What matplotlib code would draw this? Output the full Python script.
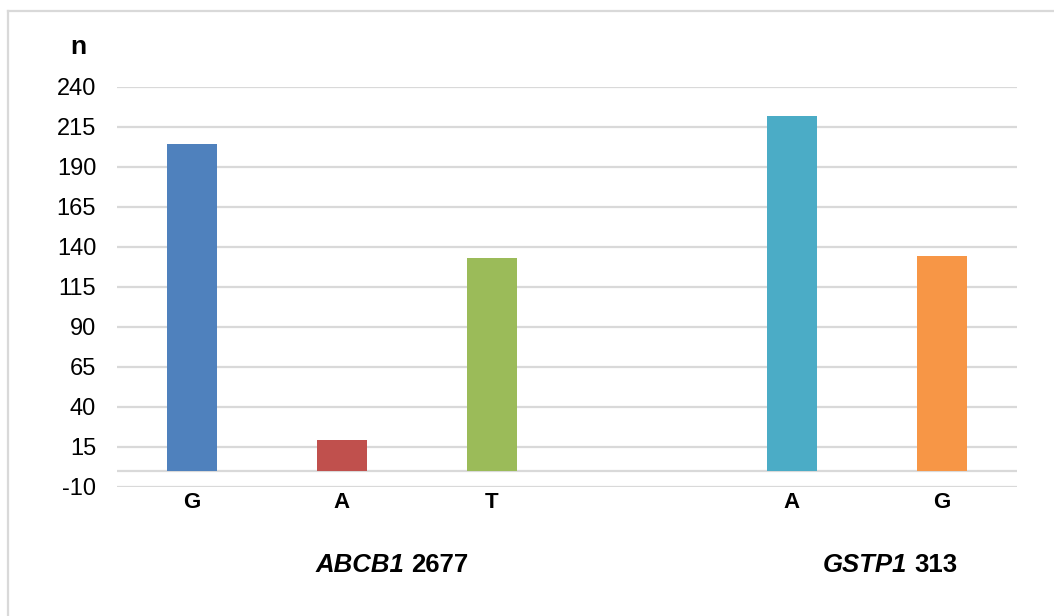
import matplotlib
matplotlib.use("Agg")
import matplotlib.pyplot as plt
from matplotlib.lines import Line2D
from matplotlib.transforms import blended_transform_factory

# Allele counts per gene
alleles = ["G", "A", "T", "", "A", "G"]
counts = [204, 19, 133, None, 222, 134]
colors = ["#4F81BD", "#C0504D", "#9BBB59", None, "#4BACC6", "#F79646"]
genes = ["ABCB1", "GSTP1"]
positions = ["2677", "313"]
y_ticks = list(range(-10, 241, 25))

plt.rcParams["font.family"] = ["Liberation Sans", "DejaVu Sans"]

W, H = 1054, 616
fig = plt.figure(figsize=(W / 100, H / 100), dpi=100)
ax = fig.add_axes([117 / W, 1 - 486.7 / H, 900 / W, 400 / H])

xs = list(range(len(alleles)))
for x, c, col in zip(xs, counts, colors):
    if c is None:
        continue
    ax.bar(x, c, width=1 / 3, color=col, zorder=3)

ax.set_xlim(-0.5, len(alleles) - 0.5)
ax.set_ylim(y_ticks[0], y_ticks[-1])
ax.set_yticks(y_ticks)
ax.set_yticklabels([str(t) for t in y_ticks], fontsize=17)
ax.set_xticks(xs)
ax.set_xticklabels(alleles, fontsize=16, fontweight="bold")
ax.tick_params(axis="both", length=0)
ax.tick_params(axis="y", pad=15)
ax.tick_params(axis="x", pad=4)

grid_col = "#D9D9D9"
for t in y_ticks:
    ax.axhline(t, color=grid_col, lw=1.6, zorder=1)
ax.axhline(0, color=grid_col, lw=1.6, zorder=2)
for s in ax.spines.values():
    s.set_visible(False)

# axis title
fig.text(78 / W, 1 - 47 / H, "n", fontsize=19, fontweight="bold",
         ha="center", va="center")

# gene / position labels below the categories
tr = blended_transform_factory(ax.transData, fig.transFigure)
junctions = [1.437, 4.79]
for xj, g, p in zip(junctions, genes, positions):
    ax.annotate(g, xy=(xj, 1 - 565 / H), xycoords=tr, xytext=(-3, 0),
                textcoords="offset pixels", ha="right", va="center",
                fontsize=18.5, fontweight="bold", fontstyle="italic",
                annotation_clip=False)
    ax.annotate(p, xy=(xj, 1 - 565 / H), xycoords=tr, xytext=(4, 0),
                textcoords="offset pixels", ha="left", va="center",
                fontsize=18.5, fontweight="bold", annotation_clip=False)

# chart frame
fig.add_artist(Line2D([7.5 / W, 7.5 / W], [0, 1 - 11 / H], color=grid_col,
                      lw=1.6, transform=fig.transFigure))
fig.add_artist(Line2D([7.5 / W, 1], [1 - 11 / H, 1 - 11 / H], color=grid_col,
                      lw=1.6, transform=fig.transFigure))

fig.savefig("out.png", dpi=100, facecolor="white")
